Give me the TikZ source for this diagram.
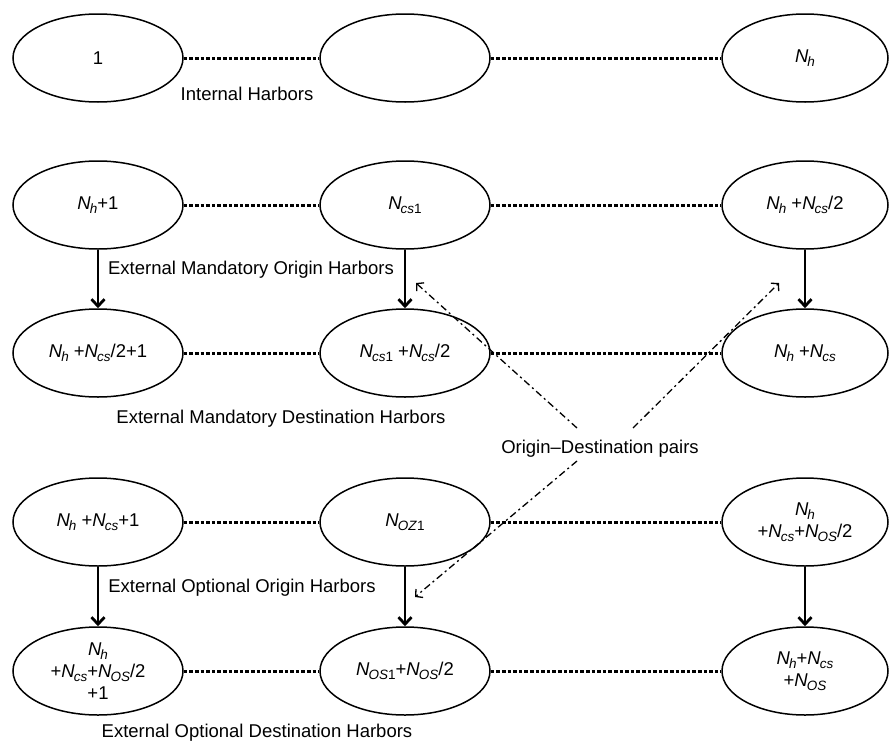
\documentclass[tikz,border=0pt]{standalone}
\usepackage{fontspec}
\setmainfont{Liberation Sans}
\usetikzlibrary{arrows.meta,shapes.geometric}
\newcommand\subx[1]{\raisebox{-0.22em}{\fontsize{13.5}{14}\selectfont #1}}
\newcommand\Nv[1]{\textit{N}\kern-0.05em\subx{\textit{#1}}}
\newcommand\Nvo[1]{\textit{N}\kern-0.05em\subx{\textit{#1}1}}
\begin{document}
\begin{tikzpicture}[x=1pt,y=-1pt,
  every node/.style={font=\fontsize{18.5}{22}\selectfont},
  harbor/.style={draw, ellipse, line width=1.5pt, minimum width=170pt, minimum height=88pt, inner sep=0pt, align=center},
  harborR/.style={harbor, minimum width=166pt},
  chainline/.style={line width=3pt, dash pattern=on 3.6pt off 2pt},
  flow/.style={line width=2.8pt, -{Straight Barb[length=7pt,width=13pt]}},
  odpair/.style={line width=1.3pt, dash pattern=on 7pt off 3.5pt on 2pt off 3.5pt, -{Straight Barb[length=5pt,width=11pt]}},
  lbl/.style={inner sep=0pt, anchor=base}]
\useasboundingbox (0,0) rectangle (889,742);

% row 1
\node[harbor]  (L1) at (98,58)  {1};
\node[harbor]  (M1) at (405,58) {};
\node[harborR] (R1) at (805,58) {\Nv{h}};
% row 2
\node[harbor]  (L2) at (98,205)  {\Nv{h}+1};
\node[harbor]  (M2) at (405,205) {\Nvo{cs}};
\node[harborR] (R2) at (805,205) {\Nv{h} +\Nv{cs}/2};
% row 3
\node[harbor]  (L3) at (98,353)  {\Nv{h} +\Nv{cs}/2+1};
\node[harbor]  (M3) at (405,353) {\Nvo{cs} +\Nv{cs}/2};
\node[harborR] (R3) at (805,353) {\Nv{h} +\Nv{cs}};
% row 4
\node[harbor]  (L4) at (98,522)  {\Nv{h} +\Nv{cs}+1};
\node[harbor]  (M4) at (405,522) {\Nvo{OZ}};
\node[harborR] (R4) at (805,522) {\Nv{h}\\+\Nv{cs}+\Nv{OS}/2};
% row 5
\node[harbor]  (L5) at (98,671)  {\Nv{h}\\+\Nv{cs}+\Nv{OS}/2\\+1};
\node[harbor]  (M5) at (405,671) {\Nvo{OS}+\Nv{OS}/2};
\node[harborR] (R5) at (805,671) {\Nv{h}+\Nv{cs}\\+\Nv{OS}};

% labels
\node[lbl] (t1) at (247,100) {Internal Harbors};
\node[lbl] (t2) at (251,274) {External Mandatory Origin Harbors};
\node[lbl] (t3) at (281,423) {External Mandatory Destination Harbors};
\node[lbl] (od) at (600,453) {Origin–Destination pairs};
\node[lbl] (t4) at (242,592) {External Optional Origin Harbors};
\node[lbl] (t5) at (257,737) {External Optional Destination Harbors};

% dotted chains
\foreach \r in {1,...,5}{
  \draw[chainline] (L\r.east) -- (M\r.west);
  \draw[chainline] (M\r.east) -- (R\r.west);
}

% vertical arrows
\foreach \c in {L,M,R}{
  \draw[flow] (\c2.south) -- (\c3.north);
  \draw[flow] (\c4.south) -- (\c5.north);
}

% origin-destination pair pointers
\coordinate (oa) at (577,428);
\coordinate (ob) at (633,428);
\coordinate (oc) at (577,461);
\coordinate (ta) at (416,283);
\coordinate (tb) at (779,283);
\coordinate (tc) at (415,597);
\draw[odpair] (oa) -- (ta);
\draw[odpair] (ob) -- (tb);
\draw[odpair] (oc) -- (tc);
\end{tikzpicture}
\end{document}
